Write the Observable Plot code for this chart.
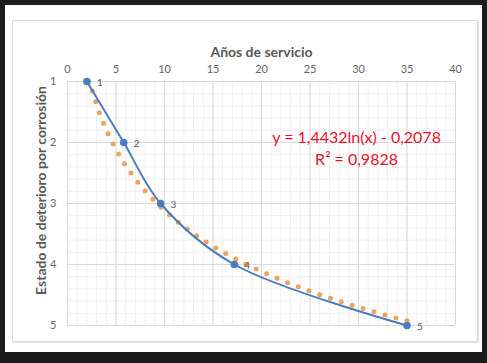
<!DOCTYPE html>
<html>
<head>
<meta charset="utf-8">
<script src="https://cdn.jsdelivr.net/npm/d3@7"></script>
<script src="https://cdn.jsdelivr.net/npm/@observablehq/plot@0.6"></script>
<style>
  html, body { margin: 0; padding: 0; background: #1c1c1c; }
  #wrap { position: relative; width: 487px; height: 363px; background: #1c1c1c; overflow: hidden; }
  #paper { position: absolute; left: 5px; top: 5px; width: 477px; height: 347px; background: #fff; }
  #area { position: absolute; left: 12px; top: 20px; width: 464px; height: 320px; border: 1px solid #d9d9d9; box-shadow: 1px 1px 0 #e4e4e4; background: #fff; }
  #chart { position: absolute; left: 0; top: 0; }
</style>
</head>
<body>
<div id="wrap"><div id="paper"></div><div id="area"></div><div id="chart"></div></div>
<script>
// Data
const years = [2, 5.8, 9.6, 17.2, 35];
const states = [1, 2, 3, 4, 5];
const pointLabels = ["1", "2", "3", "4", "5"];
const xTicks = [0, 5, 10, 15, 20, 25, 30, 35, 40];
const yTicks = [1, 2, 3, 4, 5];
const trendSlope = 1.4432;
const trendIntercept = -0.2078;
const trendR2 = "0,9828";
const eqLine1 = "y = 1,4432ln(x) - 0,2078";
const eqLine2 = "R² = " + trendR2;

const data = years.map((x, i) => ({x, y: states[i], label: pointLabels[i]}));
const x0 = d3.min(years), x1 = d3.max(years);
const trend = d3.range(0, 301).map(i => {
  const x = x0 + (x1 - x0) * i / 300;
  return {x, y: trendSlope * Math.log(x) + trendIntercept};
});

const blue = "#4a7cc2";
const orange = "#f0a35e";
const gray = "#595959";

const chart = Plot.plot({
  width: 487,
  height: 363,
  marginLeft: 67,
  marginRight: 32,
  marginTop: 81,
  marginBottom: 38,
  style: {background: "transparent", fontFamily: "Lato, 'Open Sans', sans-serif", fontSize: "11px", color: gray},
  x: {domain: [0, 40], ticks: xTicks, label: null},
  y: {domain: [1, 5], reverse: true, ticks: yTicks, label: null},
  marks: [
    Plot.gridX(d3.range(0, 41, 1), {stroke: "#efefef", strokeOpacity: 1}),
    Plot.gridY(d3.range(1, 5.001, 0.2), {stroke: "#efefef", strokeOpacity: 1}),
    Plot.gridX(xTicks, {stroke: "#d9d9d9", strokeOpacity: 1}),
    Plot.gridY(yTicks, {stroke: "#d9d9d9", strokeOpacity: 1}),
    Plot.axisX(xTicks, {anchor: "top", tickSize: 0, tickPadding: 9, fill: "#666", fontSize: 11, label: null, tickFormat: "d"}),
    Plot.axisY(yTicks, {anchor: "left", tickSize: 0, tickPadding: 11, fill: "#666", fontSize: 11, label: null, tickFormat: "d"}),
    Plot.line(trend, {x: "x", y: "y", stroke: orange, strokeWidth: 5, strokeDasharray: "0 11.4", strokeLinecap: "round", clip: true}),
    Plot.line(data, {x: "x", y: "y", curve: "catmull-rom", stroke: blue, strokeWidth: 2}),
    Plot.dot(data, {x: "x", y: "y", r: 3.8, fill: blue}),
    Plot.text(data, {x: "x", y: "y", text: "label", dx: 10, dy: 1, textAnchor: "start", fill: gray, fontSize: 10}),
    Plot.text([eqLine1], {x: 29.8, y: 1.92, text: d => d, fill: "#e8112d", fontSize: 16}),
    Plot.text([eqLine2], {x: 29.8, y: 2.28, text: d => d, fill: "#e8112d", fontSize: 16}),
    Plot.text(["Años de servicio"], {frameAnchor: "top", dy: -34, text: d => d, fill: gray, fontSize: 14, fontWeight: "bold"}),
    Plot.text(["Estado de deterioro por corrosión"], {frameAnchor: "left", textAnchor: "middle", dx: -26, dy: -13, rotate: -90, text: d => d, fill: gray, fontSize: 14, fontWeight: "bold"})
  ]
});
document.getElementById("chart").appendChild(chart);
</script>
</body>
</html>
